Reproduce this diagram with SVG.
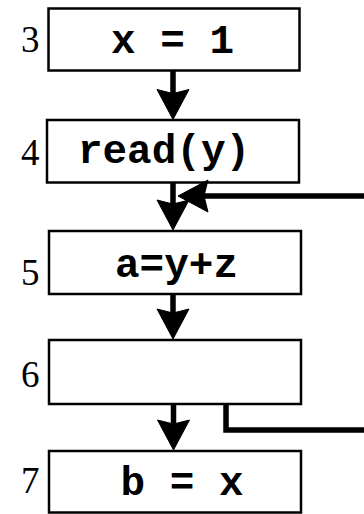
<svg xmlns="http://www.w3.org/2000/svg" xmlns:xlink="http://www.w3.org/1999/xlink" width="364" height="514" viewBox="0 0 364 514">
  <defs>
    <style>
      .box { fill: #fff; stroke: #000; stroke-width: 2.5; }
      .code { font-family: "Liberation Mono", "Courier New", monospace; font-weight: bold; font-size: 41px; fill: #000; }
      .num { font-family: "Liberation Serif", "Times New Roman", serif; font-size: 37px; fill: #000; }
      .edge { fill: none; stroke: #000; stroke-width: 5.5; stroke-linejoin: miter; }
    </style>
    <!-- arrowhead pointing down, tip at the origin, slightly notched back -->
    <polygon id="ah" points="0,0 -16,-30 0,-26 16,-30" fill="#000" stroke="#000" stroke-width="1" stroke-linejoin="round"/>
  </defs>

  <rect width="364" height="514" fill="#fff"/>

  <g id="n3">
    <rect class="box" x="48.5" y="8.5" width="251" height="62"/>
    <text class="num" x="21" y="52">3</text>
    <text class="code" x="172.5" y="53" text-anchor="middle" xml:space="preserve">x = 1</text>
  </g>

  <g id="n4">
    <rect class="box" x="47" y="120" width="252" height="62.5"/>
    <text class="num" x="21" y="165">4</text>
    <text class="code" x="164" y="163" text-anchor="middle">read(y)</text>
  </g>

  <g id="n5">
    <rect class="box" x="49" y="231" width="252" height="63"/>
    <text class="num" x="21" y="285">5</text>
    <text class="code" x="176.5" y="277" text-anchor="middle">a=y+z</text>
  </g>

  <g id="n6">
    <rect class="box" x="49" y="340" width="252" height="64"/>
    <text class="num" x="21" y="387">6</text>
  </g>

  <g id="n7">
    <rect class="box" x="49" y="451" width="252" height="61.5"/>
    <text class="num" x="21" y="493">7</text>
    <text class="code" x="182" y="495" text-anchor="middle" xml:space="preserve">b = x</text>
  </g>

  <g id="edges">
    <path class="edge" d="M173,71 L173,100"/>
    <use xlink:href="#ah" href="#ah" transform="translate(173,119.5)"/>
    <path class="edge" d="M173,183 L173,210"/>
    <use xlink:href="#ah" href="#ah" transform="translate(173,230)"/>
    <path class="edge" d="M366,196 L200,196"/>
    <use xlink:href="#ah" href="#ah" transform="translate(178,196) rotate(90)"/>
    <path class="edge" d="M173,294 L173,320"/>
    <use xlink:href="#ah" href="#ah" transform="translate(173,339)"/>
    <path class="edge" d="M173.5,404 L173.5,430"/>
    <use xlink:href="#ah" href="#ah" transform="translate(173.5,450)"/>
    <path class="edge" d="M226,404 L226,430 L366,430"/>
  </g>
</svg>
